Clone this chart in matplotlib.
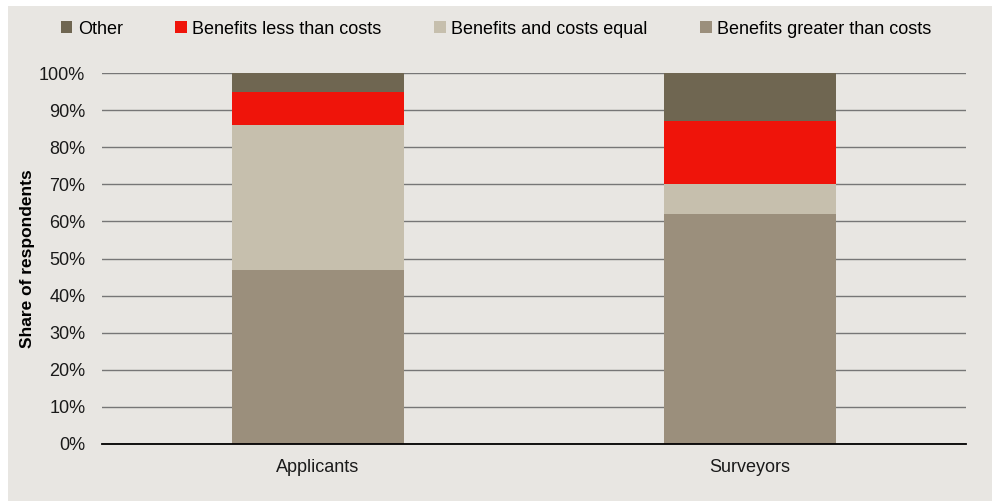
import matplotlib
matplotlib.use("Agg")
from matplotlib import pyplot as plt
from matplotlib.patches import Rectangle
from matplotlib.ticker import PercentFormatter
import numpy as np

plt.rcParams['font.family'] = ['Liberation Sans', 'DejaVu Sans']

groups = ['Applicants', 'Surveyors']
greater = [47, 62]
equal = [39, 8]
less = [9, 17]
other = [5, 13]

series = [
    ('Benefits greater than costs', greater, '#9b8f7c'),
    ('Benefits and costs equal', equal, '#c6bfad'),
    ('Benefits less than costs', less, '#ef140a'),
    ('Other', other, '#6f6651'),
]

bg = '#e8e6e2'
fig = plt.figure(figsize=(9.92, 5.01), dpi=100, facecolor='white')
fig.patches.append(Rectangle((8 / 992, 0), 1, 495 / 501, transform=fig.transFigure,
                             facecolor=bg, edgecolor='none', zorder=-10))
ax = fig.add_axes([102 / 992, (501 - 444) / 501, 864 / 992, 371 / 501])
ax.set_facecolor(bg)

x = np.arange(len(groups))
bottom = np.zeros(len(groups))
handles = {}
for name, vals, col in series:
    h = ax.bar(x, vals, width=0.4, bottom=bottom, color=col, label=name, zorder=3)
    handles[name] = h
    bottom += np.array(vals)

ax.set_xlim(-0.5, 1.5)
ax.set_ylim(0, 100)
ax.set_yticks(np.arange(0, 101, 10))
ax.yaxis.set_major_formatter(PercentFormatter(decimals=0))
ax.grid(axis='y', color='#767676', lw=1.0, zorder=0)
ax.set_xticks(x)
ax.set_xticklabels(groups)
ax.tick_params(length=0, labelsize=13, colors='#1a1a1a', pad=12)
ax.tick_params(axis='x', pad=11)
for s in ['top', 'right', 'left']:
    ax.spines[s].set_visible(False)
ax.spines['bottom'].set_color('black')
ax.spines['bottom'].set_linewidth(1.3)
ax.spines['bottom'].set_zorder(4)
ax.set_ylabel('Share of respondents', fontsize=12.5, fontweight='bold', labelpad=3)

order = ['Other', 'Benefits less than costs', 'Benefits and costs equal', 'Benefits greater than costs']
leg = fig.legend([handles[n] for n in order], order, loc='center', bbox_to_anchor=(0.5, 1 - 29 / 501),
                 ncol=4, frameon=False, fontsize=13, handlelength=0.65, handleheight=0.65,
                 handletextpad=0.3, columnspacing=2.9)

fig.savefig('out.png', dpi=100, facecolor=fig.get_facecolor())
